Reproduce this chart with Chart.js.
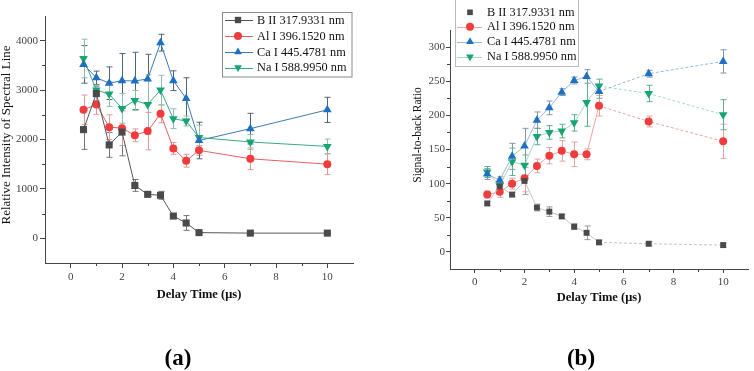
<!DOCTYPE html>
<html><head><meta charset="utf-8">
<script src="https://cdn.jsdelivr.net/npm/chart.js@4.4.1/dist/chart.umd.min.js"></script>
<style>
html,body{margin:0;padding:0;background:#fff;}
#wrap{position:relative;width:754px;height:371px;overflow:hidden;background:#fff;}
.panel{position:absolute;top:0;width:377px;height:371px;}
#pa{left:0}#pb{left:377px}
.lbl{position:absolute;width:60px;text-align:center;font:bold 23px "Liberation Serif","Times New Roman",serif;line-height:23px;color:#000;}
</style></head><body>
<div id="wrap">
<div class="panel" id="pa"><canvas id="ca"></canvas></div>
<div class="panel" id="pb"><canvas id="cb"></canvas></div>
<div class="lbl" style="left:148px;top:346px">(a)</div>
<div class="lbl" style="left:551px;top:346px">(b)</div>
</div>
<script>
// ---------- data ----------
const xValues = [0.5, 1, 1.5, 2, 2.5, 3, 3.5, 4, 4.5, 5, 7, 10];
const seriesNames = ['B II 317.9331 nm', 'Al I 396.1520 nm', 'Ca I 445.4781 nm', 'Na I 588.9950 nm'];

// (a) relative intensity of spectral line
const intensityB  = [2200, 2930, 1890, 2150, 1070, 890, 870, 450, 310, 115, 105, 105];
const intensityAl = [2600, 2710, 2250, 2230, 2085, 2170, 2520, 1820, 1570, 1780, 1610, 1500];
const intensityCa = [3520, 3250, 3140, 3190, 3185, 3225, 3960, 3190, 2830, 1980, 2220, 2600];
const intensityNa = [3640, 3000, 2920, 2630, 2790, 2710, 3000, 2420, 2375, 2040, 1950, 1860];
const intensityErrB  = [400, 150, 250, 480, 120, 40, 80, 40, 150, 20, 20, 20];
const intensityErrAl = [300, 200, 250, 350, 130, 380, 180, 120, 130, 100, 220, 210];
const intensityErrCa = [380, 135, 330, 550, 580, 500, 170, 200, 420, 370, 310, 255];
const intensityErrNa = [390, 100, 250, 300, 200, 600, 300, 200, 100, 250, 150, 150];

// (b) signal-to-back ratio
const snrB  = [71, 96, 84, 104, 65, 59, 52, 37, 28, 14, 12, 10];
const snrAl = [84, 88, 100, 108, 126, 141, 148, 143, 143, 214, 191, 162];
const snrCa = [114, 105, 140, 155, 193, 211, 234, 251, 257, 235, 261, 279];
const snrNa = [117, 97, 132, 127, 169, 175, 177, 189, 219, 243, 232, 201];
const snrErrB  = [3, 5, 3, 20, 5, 7, 3, 4, 10, 3, 3, 3];
const snrErrAl = [5, 8, 8, 20, 10, 12, 15, 18, 8, 15, 8, 25];
const snrErrCa = [8, 5, 19, 26, 12, 10, 5, 5, 10, 10, 5, 17];
const snrErrNa = [8, 10, 20, 15, 12, 10, 10, 12, 35, 10, 12, 22];

// ticks
const xTickValues = [0, 2, 4, 6, 8, 10];
const xMinorTickValues = [1, 3, 5, 7, 9];
const intensityTickValues = [0, 1000, 2000, 3000, 4000];
const intensityMinorTickValues = [500, 1500, 2500, 3500];
const snrTickValues = [0, 50, 100, 150, 200, 250, 300];
const snrMinorTickValues = [25, 75, 125, 175, 225, 275];

// ---------- styles ----------
const SERIF = '"Liberation Serif","Times New Roman",serif';
const markerStyles = [
  {pointStyle: 'rect', color: '#4a4a4a', rotation: 0},
  {pointStyle: 'circle', color: '#f03c3c', rotation: 0},
  {pointStyle: 'triangle', color: '#1f6fc5', rotation: 0},
  {pointStyle: 'triangle', color: '#16a571', rotation: 180}
];

function drawMarker(ctx, st, x, y, r) {
  ctx.beginPath();
  if (st.pointStyle === 'rect') {
    const s = r * Math.SQRT1_2;
    ctx.rect(x - s, y - s, 2 * s, 2 * s);
  } else if (st.pointStyle === 'circle') {
    ctx.arc(x, y, r, 0, Math.PI * 2);
  } else {
    let rad = st.rotation * Math.PI / 180;
    ctx.moveTo(x + Math.sin(rad) * r, y - Math.cos(rad) * r);
    rad += 2 * Math.PI / 3;
    ctx.lineTo(x + Math.sin(rad) * r, y - Math.cos(rad) * r);
    rad += 2 * Math.PI / 3;
    ctx.lineTo(x + Math.sin(rad) * r, y - Math.cos(rad) * r);
    ctx.closePath();
  }
  ctx.fillStyle = st.color;
  ctx.fill();
}

function makeDatasets(valuesList, errList, lineColors, errColors, radii, dashFrom) {
  return valuesList.map((vals, i) => ({
    label: seriesNames[i],
    data: xValues.map((x, j) => ({x: x, y: vals[j]})),
    errors: errList[i],
    errColor: errColors[i],
    borderColor: lineColors[i],
    borderWidth: 1,
    backgroundColor: markerStyles[i].color,
    pointBackgroundColor: markerStyles[i].color,
    pointBorderColor: markerStyles[i].color,
    pointBorderWidth: 0,
    pointStyle: markerStyles[i].pointStyle,
    pointRotation: markerStyles[i].rotation,
    pointRadius: radii[i],
    tension: 0,
    fill: false,
    segment: dashFrom == null ? {} : {borderDash: c => (c.p0.parsed.x >= dashFrom ? [3, 2] : undefined)}
  }));
}

const errorBarPlugin = {
  id: 'errorBars',
  beforeDatasetsDraw(chart) {
    const ctx = chart.ctx, xs = chart.scales.x, ys = chart.scales.y;
    ctx.save();
    ctx.lineWidth = 1;
    chart.data.datasets.forEach(ds => {
      if (!ds.errors) return;
      ctx.strokeStyle = ds.errColor;
      ds.data.forEach((p, j) => {
        const e = ds.errors[j];
        const px = Math.round(xs.getPixelForValue(p.x)) + 0.5;
        const yt = ys.getPixelForValue(p.y + e), yb = ys.getPixelForValue(p.y - e);
        ctx.beginPath();
        ctx.moveTo(px, yt); ctx.lineTo(px, yb);
        ctx.moveTo(px - 3, yt); ctx.lineTo(px + 3, yt);
        ctx.moveTo(px - 3, yb); ctx.lineTo(px + 3, yb);
        ctx.stroke();
      });
    });
    ctx.restore();
  }
};

const decorPlugin = {
  id: 'decor',
  afterDraw(chart, args, o) {
    const ctx = chart.ctx, xs = chart.scales.x, ys = chart.scales.y, ca = chart.chartArea;
    ctx.save();
    // minor ticks
    ctx.strokeStyle = '#444'; ctx.lineWidth = 1;
    ctx.beginPath();
    o.minorX.forEach(v => {
      const px = Math.round(xs.getPixelForValue(v)) + 0.5;
      ctx.moveTo(px, ca.bottom); ctx.lineTo(px, ca.bottom + 3);
    });
    o.minorY.forEach(v => {
      const py = Math.round(ys.getPixelForValue(v)) + 0.5;
      ctx.moveTo(ca.left, py); ctx.lineTo(ca.left - 3, py);
    });
    ctx.stroke();
    // axis titles
    ctx.fillStyle = '#111';
    ctx.textAlign = 'center'; ctx.textBaseline = 'middle';
    ctx.font = 'bold ' + o.xTitle.size + 'px ' + SERIF;
    ctx.fillText(o.xTitle.text, (ca.left + ca.right) / 2, o.xTitle.y);
    ctx.save();
    ctx.translate(o.yTitle.x, o.yTitle.y);
    ctx.rotate(-Math.PI / 2);
    ctx.font = o.yTitle.size + 'px ' + SERIF;
    ctx.fillText(o.yTitle.text, 0, 0);
    ctx.restore();
    // legend
    const L = o.legend;
    ctx.fillStyle = '#fff';
    ctx.fillRect(L.box[0], L.box[1], L.box[2], L.box[3]);
    ctx.strokeStyle = L.borderColor;
    ctx.strokeRect(L.box[0], L.box[1], L.box[2], L.box[3]);
    ctx.font = L.size + 'px ' + SERIF;
    ctx.textAlign = 'left';
    chart.data.datasets.forEach((ds, i) => {
      const y = L.rows[i];
      if (L.showLine[i]) {
        ctx.strokeStyle = ds.borderColor; ctx.lineWidth = 1;
        ctx.beginPath();
        ctx.moveTo(L.lineX[0], Math.round(y) + 0.5);
        ctx.lineTo(L.lineX[1], Math.round(y) + 0.5);
        ctx.stroke();
      }
      drawMarker(ctx, markerStyles[i], L.markerX, y, L.radius[i]);
      ctx.fillStyle = '#111';
      ctx.fillText(ds.label, L.textX, y + 0.5);
    });
    ctx.restore();
  }
};

function scaleOptions(xTicks, yTicks, ymin, ymax, yWidth, xHeight, tl, pad) {
  const tickFont = {family: SERIF, size: 11};
  return {
    x: {
      type: 'linear', min: -1, max: 11,
      afterBuildTicks: s => { s.ticks = xTicks.map(v => ({value: v})); },
      afterFit: s => { s.height = xHeight; },
      grid: {drawOnChartArea: false, drawTicks: true, tickLength: tl, color: '#444'},
      border: {display: true, color: '#444', width: 1},
      ticks: {font: tickFont, color: '#444', padding: 3, autoSkip: false, maxRotation: 0,
              callback: v => String(v)}
    },
    y: {
      type: 'linear', min: ymin, max: ymax,
      afterBuildTicks: s => { s.ticks = yTicks.map(v => ({value: v})); },
      afterFit: s => { s.width = yWidth; },
      grid: {drawOnChartArea: false, drawTicks: true, tickLength: tl, color: '#444'},
      border: {display: true, color: '#444', width: 1},
      ticks: {font: tickFont, color: '#444', padding: pad, autoSkip: false,
              callback: v => String(v)}
    }
  };
}

// ---------- chart (a) ----------
new Chart(document.getElementById('ca'), {
  type: 'line',
  data: {
    datasets: makeDatasets(
      [intensityB, intensityAl, intensityCa, intensityNa],
      [intensityErrB, intensityErrAl, intensityErrCa, intensityErrNa],
      ['#555555', '#e86060', '#3c7ab3', '#3aa88a'],
      ['#777777', '#e09a9a', '#4f6478', '#8fbcaa'],
      [5, 4, 5, 5], null)
  },
  options: {
    responsive: true, maintainAspectRatio: false, animation: false, events: [],
    layout: {padding: {left: 0, right: 24, top: 16, bottom: 78}},
    scales: scaleOptions(xTickValues, intensityTickValues, -500, 4500, 45, 30, 5, 2),
    plugins: {
      legend: {display: false}, tooltip: {enabled: false},
      decor: {
        minorX: xMinorTickValues, minorY: intensityMinorTickValues,
        xTitle: {text: 'Delay Time (\u03bcs)', y: 295, size: 12.5},
        yTitle: {text: 'Relative Intensity of Spectral Line', x: 7, y: 135, size: 13},
        legend: {box: [222.5, 12.5, 129.5, 64.5], borderColor: '#8a8a8a', rows: [20, 36, 52, 67.5],
                 lineX: [225, 253], markerX: 238, textX: 257, size: 12.3,
                 radius: [4.5, 4, 4.5, 4.5], showLine: [true, true, true, true]}
      }
    }
  },
  plugins: [errorBarPlugin, decorPlugin]
});

// ---------- chart (b) ----------
new Chart(document.getElementById('cb'), {
  type: 'line',
  data: {
    datasets: makeDatasets(
      [snrB, snrAl, snrCa, snrNa],
      [snrErrB, snrErrAl, snrErrCa, snrErrNa],
      ['#c4c4c4', '#eba5a5', '#98b9d6', '#a5dac6'],
      ['#9a9a9a', '#e3a3a3', '#8497aa', '#5fae90'],
      [4.2, 4, 5, 5], 5)
  },
  options: {
    responsive: true, maintainAspectRatio: false, animation: false, events: [],
    layout: {padding: {left: 0, right: 6, top: 30, bottom: 72}},
    scales: scaleOptions(xTickValues, snrTickValues, -25, 325, 73, 30, 4, 1),
    plugins: {
      legend: {display: false}, tooltip: {enabled: false},
      decor: {
        minorX: xMinorTickValues, minorY: snrMinorTickValues,
        xTitle: {text: 'Delay Time (\u03bcs)', y: 298, size: 12.5},
        yTitle: {text: 'Signal-to-back Ratio', x: 41, y: 135, size: 11.5},
        legend: {box: [78.5, -1, 123, 67.5], borderColor: '#bbbbbb', rows: [12.3, 26.7, 41.7, 56.7],
                 lineX: [80, 105], markerX: 93, textX: 110, size: 12.3,
                 radius: [4, 4, 4.5, 4.5], showLine: [false, true, true, true]}
      }
    }
  },
  plugins: [errorBarPlugin, decorPlugin]
});
</script>
</body></html>
